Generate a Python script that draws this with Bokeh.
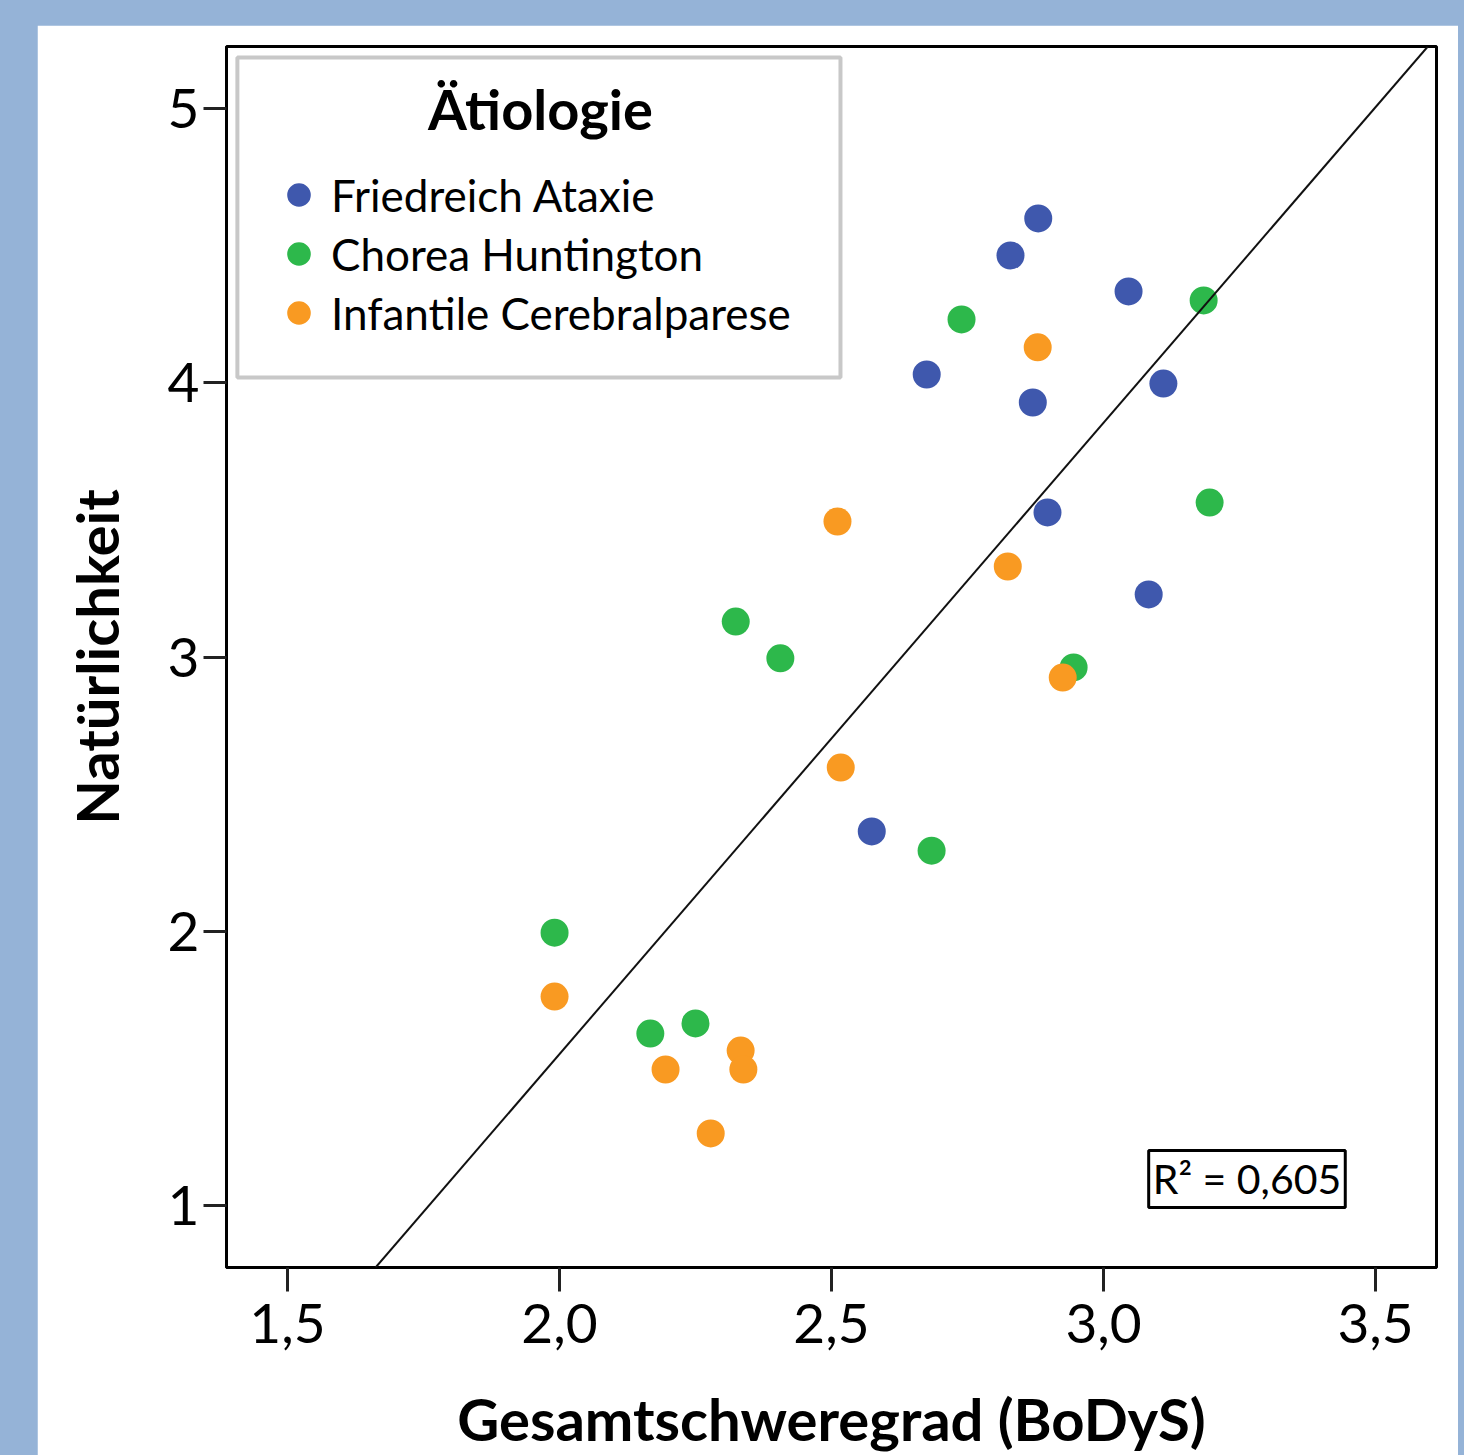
from bokeh.plotting import figure
from bokeh.models import Range1d, Slope, Label, Legend, LegendItem, BoxAnnotation, FixedTicker
from bokeh.layouts import column
from bokeh.embed import file_html
from bokeh.resources import INLINE

# ---------------- data ----------------
groups = ["Friedreich Ataxie", "Chorea Huntington", "Infantile Cerebralparese"]
group_colors = ["#3F58AD", "#2DB84B", "#F99A22"]

fa_x = [2.880, 2.829, 3.046, 2.675, 3.110, 2.870, 2.897, 3.083, 2.574]
fa_y = [4.599, 4.464, 4.333, 4.030, 3.997, 3.928, 3.527, 3.228, 2.364]

ch_x = [3.184, 2.739, 3.195, 2.324, 2.406, 2.945, 2.684, 1.991, 2.250, 2.167]
ch_y = [4.300, 4.231, 3.563, 3.129, 2.995, 2.962, 2.294, 1.995, 1.664, 1.627]

icp_x = [2.879, 2.511, 2.824, 2.925, 2.517, 1.991, 2.333, 2.195, 2.338, 2.278]
icp_y = [4.129, 3.494, 3.330, 2.925, 2.597, 1.762, 1.565, 1.496, 1.496, 1.263]

fit_slope = 2.302
fit_intercept = -3.052
r_squared_text = "R² = 0,605"

x_ticks = [1.5, 2.0, 2.5, 3.0, 3.5]
x_tick_labels = ["1,5", "2,0", "2,5", "3,0", "3,5"]
y_ticks = [1, 2, 3, 4, 5]
y_tick_labels = ["1", "2", "3", "4", "5"]

x_title = "Gesamtschweregrad (BoDyS)"
y_title = "Natürlichkeit"
legend_title = "Ätiologie"

FONT = "Lato"

# ---------------- figure ----------------
p = figure(width=1421, height=1430, output_backend="svg", toolbar_location=None,
           x_range=Range1d(1.388, 3.612), y_range=Range1d(0.774, 5.226),
           min_border_left=189, min_border_right=22, min_border_top=21, min_border_bottom=188)
p.margin = (25, 6, 0, 37)
p.background_fill_color = "white"
p.border_fill_color = "white"
p.grid.visible = False
p.outline_line_color = "black"
p.outline_line_width = 3

for ax in (p.xaxis[0], p.yaxis[0]):
    ax.axis_line_color = "black"
    ax.axis_line_width = 3
    ax.major_tick_line_color = "#222222"
    ax.major_tick_line_width = 3
    ax.major_tick_in = 0
    ax.minor_tick_line_color = None
    ax.major_label_text_font = FONT
    ax.major_label_text_font_size = "55px"
    ax.major_label_text_color = "black"
    ax.axis_label_text_font = FONT
    ax.axis_label_text_font_style = "bold"
    ax.axis_label_text_font_size = "58px"
    ax.axis_label_text_color = "black"

p.xaxis.ticker = FixedTicker(ticks=x_ticks)
p.xaxis.major_label_overrides = {t: l for t, l in zip(x_ticks, x_tick_labels)}
p.xaxis.major_tick_out = 24
p.xaxis.major_label_standoff = 12
p.xaxis.axis_label = x_title
p.xaxis.axis_label_standoff = 38

p.yaxis.ticker = FixedTicker(ticks=y_ticks)
p.yaxis.major_label_overrides = {t: l for t, l in zip(y_ticks, y_tick_labels)}
p.yaxis.major_tick_out = 23
p.yaxis.major_label_standoff = 4
p.yaxis.axis_label = y_title
p.yaxis.axis_label_standoff = 34

# regression line
p.add_layout(Slope(gradient=fit_slope, y_intercept=fit_intercept,
                   line_color="#111111", line_width=2))

# points
renderers = []
for xs, ys, col in zip([fa_x, ch_x, icp_x], [fa_y, ch_y, icp_y], group_colors):
    r = p.scatter(xs, ys, size=28, fill_color=col, line_color=col, line_width=0)
    renderers.append(r)

# legend frame + title
p.add_layout(BoxAnnotation(left=1.408, right=2.5165, top=5.186, bottom=4.019,
                           fill_color="white", fill_alpha=1.0,
                           line_color="#C8C8C8", line_alpha=1.0, line_width=4,
                           level="annotation"))
p.add_layout(Label(x=1.965, y=5.0, text=legend_title, text_align="center",
                   text_baseline="middle", text_font=FONT, text_font_style="bold",
                   text_font_size="56px", text_color="black"))

legend = Legend(items=[LegendItem(label=g, renderers=[r]) for g, r in zip(groups, renderers)],
                location=(43, 925), padding=0, spacing=0, margin=0,
                glyph_width=59, glyph_height=59, label_height=59, label_standoff=3,
                label_text_font=FONT, label_text_font_size="44px", label_text_color="black",
                border_line_alpha=0, background_fill_alpha=0)
p.add_layout(legend)

# R² box
p.add_layout(Label(x=3.083, y=0.993, text=r_squared_text, text_font=FONT,
                   text_font_size="41px", text_color="black", text_baseline="bottom",
                   padding=4, border_line_color="black", border_line_width=3,
                   background_fill_color="white"))

layout = column(p, styles={"background-color": "#95b3d7"})

open("out.html", "w").write(file_html(layout, INLINE))
